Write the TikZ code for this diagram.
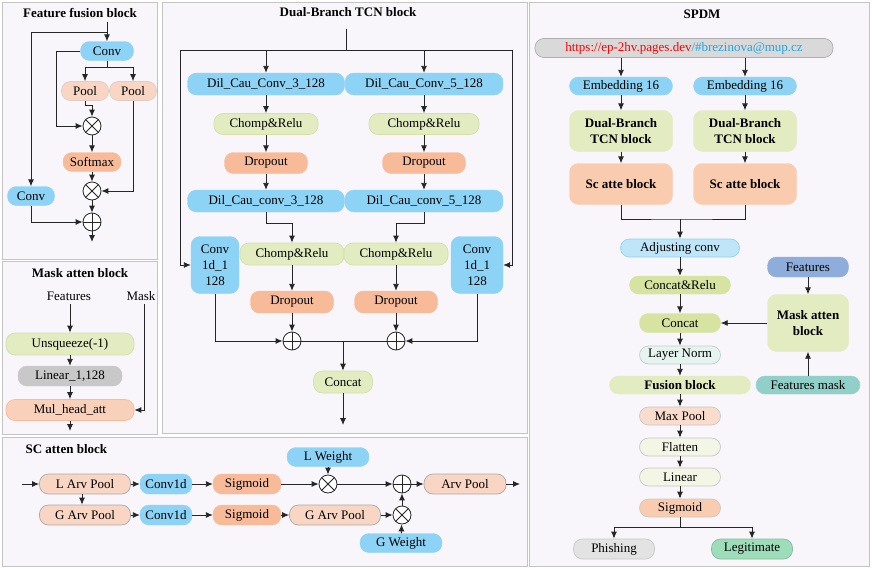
\documentclass[tikz,border=0pt]{standalone}
\usepackage{fontspec}
\setmainfont{Liberation Serif}
\usetikzlibrary{arrows.meta,calc}

\definecolor{panelfill}{HTML}{F8F6FA}
\definecolor{panelline}{HTML}{C4C4C4}
\definecolor{skyblue}{HTML}{8DD3F5}
\definecolor{palegreen}{HTML}{E3EBC1}
\definecolor{palegreenline}{HTML}{D4E1A8}
\definecolor{salmon}{HTML}{F8BB9A}
\definecolor{peach}{HTML}{F9D6C3}
\definecolor{boxgray}{HTML}{C8C8C8}
\definecolor{rimgray}{HTML}{A9A9A9}
\definecolor{urlred}{HTML}{FF0000}
\definecolor{urlblue}{HTML}{1FA6E6}
\definecolor{urlgray}{HTML}{D9D9D9}
\definecolor{lightsky}{HTML}{BEE5F8}
\definecolor{olivegreen}{HTML}{D6E3A1}
\definecolor{mint}{HTML}{E6F4EF}
\definecolor{cream}{HTML}{F3F6E5}
\definecolor{jade}{HTML}{9EDDB9}
\definecolor{steel}{HTML}{8EADDB}
\definecolor{tealbox}{HTML}{90D0C8}
\definecolor{scpeach}{HTML}{F9CCB0}

\begin{document}
\begin{tikzpicture}[x=1pt, y=-1pt, font=\fontsize{13}{15}\selectfont,
    panel/.style={draw=panelline, fill=panelfill, line width=0.8pt},
    title/.style={font=\fontsize{13}{15}\selectfont\bfseries},
    blk/.style={fill=#1, draw=#1, rounded corners=9pt, minimum height=19pt, inner sep=1pt},
    rim/.style={draw=#1, line width=0.7pt},
    line/.style={draw=black!85, line width=0.9pt},
    arr/.style={line, -{Latex[length=7pt,width=6pt]}},
    opnode/.style={circle, draw=black!85, fill=white, line width=0.8pt, minimum size=18pt, inner sep=0pt},
    otimes/.style={opnode, path picture={
        \draw[black!85, line width=0.8pt] (path picture bounding box.north west) -- (path picture bounding box.south east)
              (path picture bounding box.north east) -- (path picture bounding box.south west);}},
    oplus/.style={opnode, path picture={
        \draw[black!85, line width=0.8pt] (path picture bounding box.north) -- (path picture bounding box.south)
              (path picture bounding box.west) -- (path picture bounding box.east);}}]

\useasboundingbox (0,0) rectangle (872,568);

% panels
\draw[panel] (2,2) rectangle (157,259);
\draw[panel] (2,261) rectangle (157,434);
\draw[panel] (162,2) rectangle (527,433);
\draw[panel] (2,437) rectangle (527,566);
\draw[panel] (529,2) rectangle (869,566);

% Feature fusion block
\node[title] (fftitle) at (80,13) {Feature fusion block};
\coordinate (ffin) at (107,22);
\coordinate (ffsplit) at (107,32);
\node[blk=skyblue, minimum width=53pt] (ffconv) at (107,51) {Conv};
\node[blk=peach, rim=peach!80!black!60, minimum width=47pt] (ffpool1) at (85,91) {Pool};
\node[blk=peach, rim=peach!80!black!60, minimum width=47pt] (ffpool2) at (133,91) {Pool};
\node[otimes] (ffmul1) at (92,126) {};
\node[blk=salmon, minimum width=58pt] (ffsoft) at (92,162) {Softmax};
\node[otimes] (ffmul2) at (92,191) {};
\node[oplus] (ffadd) at (92,222) {};
\node[blk=skyblue, minimum width=47pt] (ffconv2) at (31,196) {Conv};
\coordinate (ffout) at (92,242);

\draw[arr] (ffin) -- (ffconv);
\draw[arr] (ffsplit) -| (ffconv2);
\draw[arr] (ffconv.west) -| ([xshift=-26pt]ffmul1.west) -- (ffmul1.west);
\draw[arr] (ffconv.south) -- ++(0,7) -| (ffpool1);
\draw[arr] (ffconv.south) -- ++(0,7) -| (ffpool2);
\draw[arr] (ffpool1.south) -- ++(0,5) -| (ffmul1.north);
\draw[arr] (ffpool2.south) |- (ffmul2.east);
\draw[arr] (ffmul1) -- (ffsoft);
\draw[arr] (ffsoft) -- (ffmul2);
\draw[arr] (ffmul2) -- (ffadd);
\draw[arr] (ffconv2.south) |- (ffadd.west);
\draw[arr] (ffadd) -- (ffout);

% Mask atten block
\node[title] (matitle) at (80,273) {Mask atten block};
\node (mafeat) at (69,296) {Features};
\node (mamask) at (141,296) {Mask};
\node[blk=palegreen, rim=palegreenline, minimum width=128pt, minimum height=22pt] (maunsq) at (70,344) {Unsqueeze(-1)};
\node[blk=boxgray, minimum width=104pt, minimum height=20pt] (malin) at (70,376) {Linear\_1,128};
\node[blk=peach!80!salmon, rim=salmon, minimum width=128pt, minimum height=21pt] (mamul) at (70,410) {Mul\_head\_att};
\coordinate (maout) at (70,431);

\draw[arr] (mafeat.south -| maunsq.north) -- (maunsq.north);
\draw[arr] (maunsq) -- (malin);
\draw[arr] (malin) -- (mamul);
\draw[arr] ([xshift=3pt]mamask.south) |- (mamul.east);
\draw[arr] (mamul) -- (maout);

% Dual-Branch TCN block
\node[title] (tcntitle) at (348,12) {Dual-Branch TCN block};
\coordinate (tcnin) at (346,29);
\coordinate (tcntop) at (346,50);
\node[blk=skyblue, minimum width=157pt, minimum height=22pt] (dcc3) at (266,84) {Dil\_Cau\_Conv\_3\_128};
\node[blk=skyblue, minimum width=158pt, minimum height=22pt] (dcc5) at (424,84) {Dil\_Cau\_Conv\_5\_128};
\node[blk=palegreen, rim=palegreenline, minimum width=104pt, minimum height=21pt] (cr1) at (266,124) {Chomp\&Relu};
\node[blk=palegreen, rim=palegreenline, minimum width=110pt, minimum height=21pt] (cr2) at (424,124) {Chomp\&Relu};
\node[blk=salmon, minimum width=83pt, minimum height=21pt] (do1) at (266,163) {Dropout};
\node[blk=salmon, minimum width=83pt, minimum height=21pt] (do2) at (424,163) {Dropout};
\node[blk=skyblue, minimum width=157pt, minimum height=22pt] (dcc3b) at (266,201) {Dil\_Cau\_conv\_3\_128};
\node[blk=skyblue, minimum width=158pt, minimum height=22pt] (dcc5b) at (424,201) {Dil\_Cau\_conv\_5\_128};
\node[blk=palegreen, rim=palegreenline, minimum width=104pt, minimum height=22pt] (cr3) at (292,254) {Chomp\&Relu};
\node[blk=palegreen, rim=palegreenline, minimum width=104pt, minimum height=22pt] (cr4) at (396,254) {Chomp\&Relu};
\node[blk=skyblue, minimum width=48pt, minimum height=57pt, align=center, font=\fontsize{13}{16}\selectfont] (cv1) at (215,265) {Conv\\1d\_1\\128};
\node[blk=skyblue, minimum width=52pt, minimum height=57pt, align=center, font=\fontsize{13}{16}\selectfont] (cv2) at (477,265) {Conv\\1d\_1\\128};
\node[blk=salmon, minimum width=83pt, minimum height=22pt] (do3) at (292,302) {Dropout};
\node[blk=salmon, minimum width=83pt, minimum height=22pt] (do4) at (396,302) {Dropout};
\node[oplus] (add1) at (292,341) {};
\node[oplus] (add2) at (396,341) {};
\node[blk=palegreen, rim=palegreenline, minimum width=59pt, minimum height=22pt] (concat) at (343,382) {Concat};
\coordinate (tcnout) at (343,425);

\draw[line] (tcnin) -- (tcntop);
\draw[arr] (tcntop) -| ([xshift=-10pt]cv1.west) -- (cv1.west);
\draw[arr] (tcntop) -| ([xshift=9pt]cv2.east) -- (cv2.east);
\draw[arr] (dcc3 |- tcntop) -- (dcc3);
\draw[arr] (dcc5 |- tcntop) -- (dcc5);
\draw[arr] (dcc3) -- (cr1);
\draw[arr] (cr1) -- (do1);
\draw[arr] (do1) -- (dcc3b);
\draw[arr] (dcc5) -- (cr2);
\draw[arr] (cr2) -- (do2);
\draw[arr] (do2) -- (dcc5b);
\draw[arr] (dcc3b.south) -- ++(0,11) -| (cr3.north);
\draw[arr] (dcc5b.south) -- ++(0,11) -| (cr4.north);
\draw[arr] (cr3) -- (do3);
\draw[arr] (do3) -- (add1);
\draw[arr] (cr4) -- (do4);
\draw[arr] (do4) -- (add2);
\draw[arr] (cv1.south) |- (add1.west);
\draw[arr] (cv2.south) |- (add2.east);
\draw[line] (add1.east) -- (add2.west);
\draw[arr] (concat |- add1) -- (concat);
\draw[arr] (concat) -- (tcnout);

% SC atten block
\node[title, anchor=west] (sctitle) at (22,449) {SC atten block};
\coordinate (scin) at (22,484);
\node[blk=peach, rim=rimgray, minimum width=91pt, minimum height=20pt] (lap) at (85,484) {L Arv Pool};
\node[blk=skyblue, minimum width=52pt, minimum height=20pt] (sconv1) at (166,484) {Conv1d};
\node[blk=salmon, minimum width=68pt, minimum height=20pt] (ssig1) at (247,484) {Sigmoid};
\node[otimes] (smul1) at (328,484) {};
\node[blk=skyblue, minimum width=82pt, minimum height=19pt] (lw) at (328,457) {L Weight};
\node[oplus] (sadd) at (402,484) {};
\node[blk=peach, rim=rimgray, minimum width=82pt, minimum height=20pt] (ap) at (465,484) {Arv Pool};
\coordinate (scout) at (520,484);
\node[blk=peach, rim=rimgray, minimum width=91pt, minimum height=20pt] (gap) at (85,515) {G Arv Pool};
\node[blk=skyblue, minimum width=52pt, minimum height=20pt] (sconv2) at (166,515) {Conv1d};
\node[blk=salmon, minimum width=68pt, minimum height=20pt] (ssig2) at (247,515) {Sigmoid};
\node[blk=peach, rim=rimgray, minimum width=91pt, minimum height=20pt] (gap2) at (335,515) {G Arv Pool};
\node[otimes] (smul2) at (402,515) {};
\node[blk=skyblue, minimum width=82pt, minimum height=19pt] (gw) at (401,543) {G Weight};

\draw[arr] (scin) -- (lap);
\draw[arr] (lap) -- (sconv1);
\draw[arr] (sconv1) -- (ssig1);
\draw[arr] (ssig1) -- (smul1);
\draw[arr] (lw) -- (smul1);
\draw[arr] (smul1) -- (sadd);
\draw[arr] (sadd) -- (ap);
\draw[arr] (ap) -- (scout);
\draw[arr] ([xshift=-3pt]lap.south) -- ([xshift=-3pt]gap.north);
\draw[arr] (gap) -- (sconv2);
\draw[arr] (sconv2) -- (ssig2);
\draw[arr] (ssig2) -- (gap2);
\draw[arr] (gap2) -- (smul2);
\draw[arr] (gw) -- (smul2);
\draw[arr] (smul2) -- (sadd);

% SPDM
\node[title] (sptitle) at (702,14) {SPDM};
\node[blk=urlgray, rim=urlgray!80!black, minimum width=298pt, minimum height=19pt] (url) at (684,48)
    {\textcolor{urlred}{https://ep-2hv.pages.dev}\textcolor{urlblue}{/\#brezinova@mup.cz}};
\node[blk=skyblue, minimum width=103pt, minimum height=18pt] (emb1) at (621,86) {Embedding 16};
\node[blk=skyblue, minimum width=103pt, minimum height=18pt] (emb2) at (745,86) {Embedding 16};
\node[blk=palegreen, minimum width=103pt, minimum height=41pt, align=center, font=\fontsize{13}{16}\selectfont\bfseries] (tcn1) at (621,131) {Dual-Branch\\TCN block};
\node[blk=palegreen, minimum width=103pt, minimum height=41pt, align=center, font=\fontsize{13}{16}\selectfont\bfseries] (tcn2) at (745,131) {Dual-Branch\\TCN block};
\node[blk=scpeach, minimum width=103pt, minimum height=41pt, font=\fontsize{13}{15}\selectfont\bfseries] (sca1) at (621,184) {Sc atte block};
\node[blk=scpeach, minimum width=103pt, minimum height=41pt, font=\fontsize{13}{15}\selectfont\bfseries] (sca2) at (745,184) {Sc atte block};
\coordinate (spjoin) at (680,219);
\node[blk=lightsky, rim=skyblue, minimum width=119pt, minimum height=18pt] (adj) at (680,248) {Adjusting conv};
\node[blk=olivegreen, minimum width=101pt, minimum height=18pt] (ccr) at (680,285) {Concat\&Relu};
\node[blk=olivegreen, minimum width=81pt, minimum height=19pt] (cat) at (680,323) {Concat};
\node[blk=mint, rim=mint!85!black, minimum width=81pt, minimum height=18pt] (ln) at (680,355) {Layer Norm};
\node[blk=palegreen, minimum width=141pt, minimum height=18pt, font=\fontsize{13}{15}\selectfont\bfseries] (fus) at (680,385) {Fusion block};
\node[blk=peach!85!white, rim=boxgray, minimum width=81pt, minimum height=18pt] (mp) at (680,416) {Max Pool};
\node[blk=cream, rim=boxgray, minimum width=81pt, minimum height=18pt] (fl) at (680,447) {Flatten};
\node[blk=cream, rim=boxgray, minimum width=81pt, minimum height=18pt] (lin) at (680,477) {Linear};
\node[blk=scpeach, rim=boxgray, minimum width=81pt, minimum height=18pt] (sig) at (680,508) {Sigmoid};
\coordinate (spsplit) at (680,527);
\node[blk=black!11, rim=boxgray, minimum width=81pt, minimum height=20pt] (phish) at (614,549) {Phishing};
\node[blk=jade, rim=jade!85!black, minimum width=81pt, minimum height=20pt] (legit) at (752,549) {Legitimate};
\node[blk=steel, minimum width=81pt, minimum height=20pt] (feat) at (808,267) {Features};
\node[blk=palegreen, minimum width=81pt, minimum height=57pt, align=center, font=\fontsize{13}{16}\selectfont\bfseries] (mab) at (808,323) {Mask atten\\block};
\node[blk=tealbox, minimum width=104pt, minimum height=18pt] (fmask) at (808,385) {Features mask};

\draw[arr] (url.south -| emb1) -- (emb1);
\draw[arr] (url.south -| emb2) -- (emb2);
\draw[arr] (emb1) -- (tcn1);
\draw[arr] (tcn1) -- (sca1);
\draw[arr] (emb2) -- (tcn2);
\draw[arr] (tcn2) -- (sca2);
\draw[line] (sca1.south) |- (spjoin) -| (sca2.south);
\draw[arr] (spjoin) -- (adj);
\draw[arr] (adj) -- (ccr);
\draw[arr] (ccr) -- (cat);
\draw[arr] (cat) -- (ln);
\draw[arr] (ln) -- (fus);
\draw[arr] (fus) -- (mp);
\draw[arr] (mp) -- (fl);
\draw[arr] (fl) -- (lin);
\draw[arr] (lin) -- (sig);
\draw[line] (sig) -- (spsplit);
\draw[arr] (spsplit) -| (phish);
\draw[arr] (spsplit) -| (legit);
\draw[arr] (feat) -- (mab);
\draw[arr] (fmask) -- (mab);
\draw[arr] (mab) -- (cat);
\end{tikzpicture}
\end{document}
